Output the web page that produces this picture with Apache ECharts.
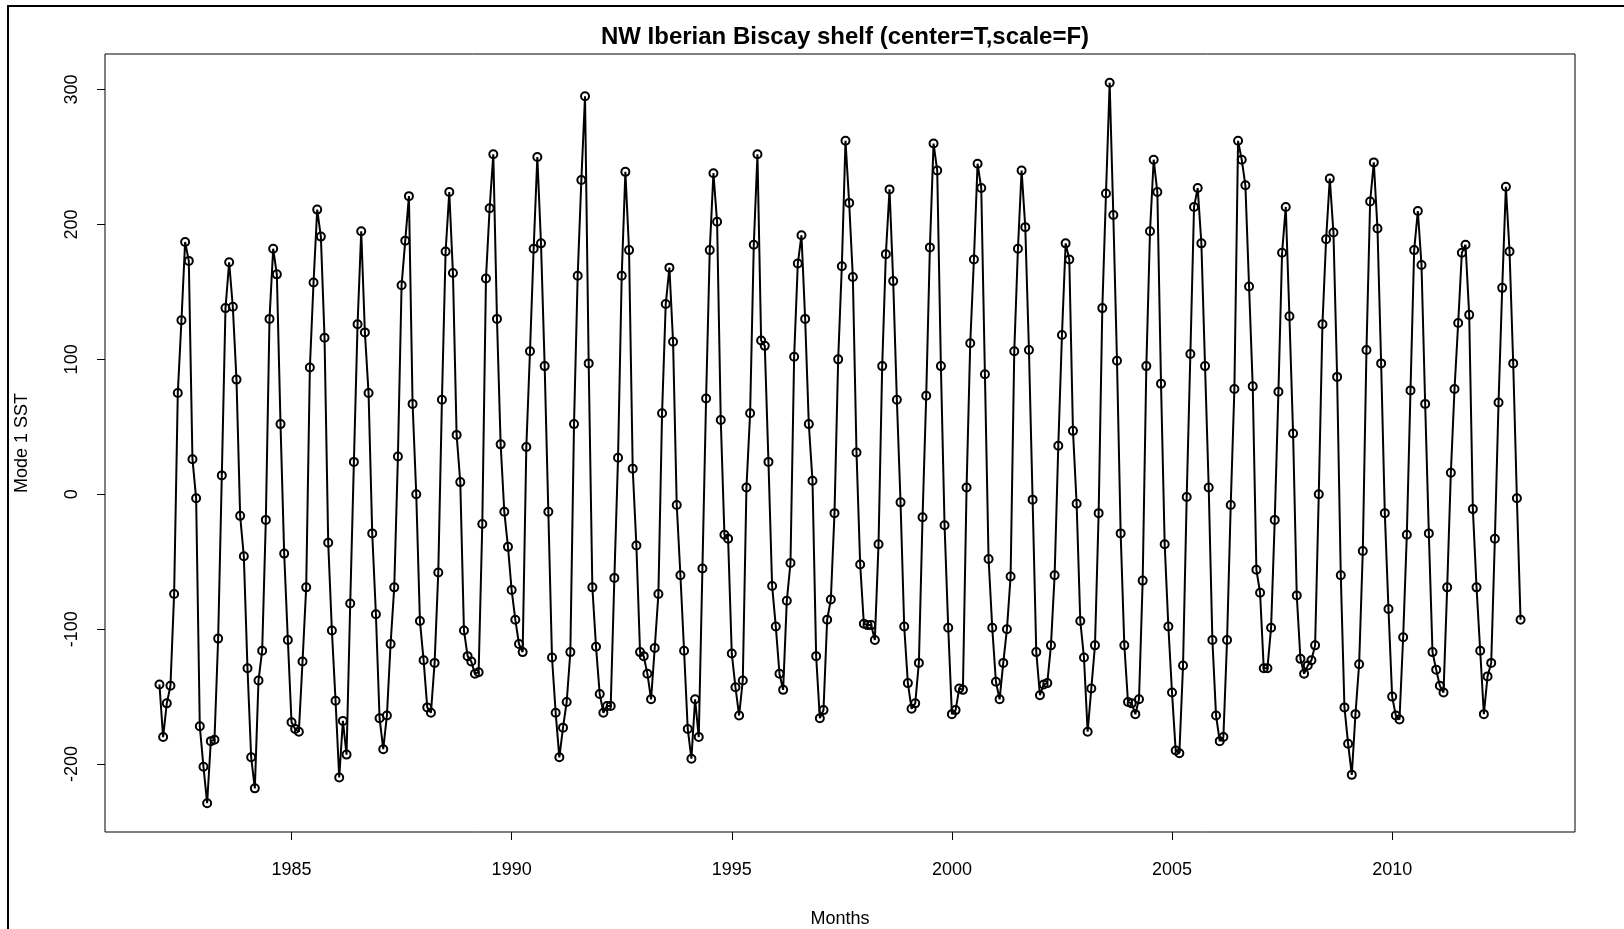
<!DOCTYPE html>
<html>
<head>
<meta charset="utf-8">
<script src="https://cdn.jsdelivr.net/npm/echarts@6/dist/echarts.min.js"></script>
<style>
  html, body { margin: 0; padding: 0; background: #fff; overflow: hidden; }
  #chart { position: absolute; left: 0; top: 0; width: 1624px; height: 929px; }
  #frame { position: absolute; left: 7px; top: 5px; width: 1700px; height: 1000px;
           border-left: 2px solid #000; border-top: 2px solid #000; pointer-events: none; }
</style>
</head>
<body>
<div id="chart"></div>
<div id="frame"></div>
<script>
// Mode 1 SST, monthly values Jan..Dec
var startYear = 1982;
var y1982 = [-141, -180, -155, -142, -74, 75, 129, 187, 173, 26, -3, -172];
var y1983 = [-202, -229, -183, -182, -107, 14, 138, 172, 139, 85, -16, -46];
var y1984 = [-129, -195, -218, -138, -116, -19, 130, 182, 163, 52, -44, -108];
var y1985 = [-169, -174, -176, -124, -69, 94, 157, 211, 191, 116, -36, -101];
var y1986 = [-153, -210, -168, -193, -81, 24, 126, 195, 120, 75, -29, -89];
var y1987 = [-166, -189, -164, -111, -69, 28, 155, 188, 221, 67, 0, -94];
var y1988 = [-123, -158, -162, -125, -58, 70, 180, 224, 164, 44, 9, -101];
var y1989 = [-120, -124, -133, -132, -22, 160, 212, 252, 130, 37, -13, -39];
var y1990 = [-71, -93, -111, -117, 35, 106, 182, 250, 186, 95, -13, -121];
var y1991 = [-162, -195, -173, -154, -117, 52, 162, 233, 295, 97, -69, -113];
var y1992 = [-148, -162, -157, -157, -62, 27, 162, 239, 181, 19, -38, -117];
var y1993 = [-120, -133, -152, -114, -74, 60, 141, 168, 113, -8, -60, -116];
var y1994 = [-174, -196, -152, -180, -55, 71, 181, 238, 202, 55, -30, -33];
var y1995 = [-118, -143, -164, -138, 5, 60, 185, 252, 114, 110, 24, -68];
var y1996 = [-98, -133, -145, -79, -51, 102, 171, 192, 130, 52, 10, -120];
var y1997 = [-166, -160, -93, -78, -14, 100, 169, 262, 216, 161, 31, -52];
var y1998 = [-96, -97, -97, -108, -37, 95, 178, 226, 158, 70, -6, -98];
var y1999 = [-140, -159, -155, -125, -17, 73, 183, 260, 240, 95, -23, -99];
var y2000 = [-163, -160, -144, -145, 5, 112, 174, 245, 227, 89, -48, -99];
var y2001 = [-139, -152, -125, -100, -61, 106, 182, 240, 198, 107, -4, -117];
var y2002 = [-149, -141, -140, -112, -60, 36, 118, 186, 174, 47, -7, -94];
var y2003 = [-121, -176, -144, -112, -14, 138, 223, 305, 207, 99, -29, -112];
var y2004 = [-154, -155, -163, -152, -64, 95, 195, 248, 224, 82, -37, -98];
var y2005 = [-147, -190, -192, -127, -2, 104, 213, 227, 186, 95, 5, -108];
var y2006 = [-164, -183, -180, -108, -8, 78, 262, 248, 229, 154, 80, -56];
var y2007 = [-73, -129, -129, -99, -19, 76, 179, 213, 132, 45, -75, -122];
var y2008 = [-133, -127, -123, -112, 0, 126, 189, 234, 194, 87, -60, -158];
var y2009 = [-185, -208, -163, -126, -42, 107, 217, 246, 197, 97, -14, -85];
var y2010 = [-150, -164, -167, -106, -30, 77, 181, 210, 170, 67, -29, -117];
var y2011 = [-130, -142, -147, -69, 16, 78, 127, 179, 185, 133, -11, -69];
var y2012 = [-116, -163, -135, -125, -33, 68, 153, 228, 180, 97, -3, -93];

var years = [y1982, y1983, y1984, y1985, y1986, y1987, y1988, y1989, y1990, y1991,
             y1992, y1993, y1994, y1995, y1996, y1997, y1998, y1999, y2000, y2001,
             y2002, y2003, y2004, y2005, y2006, y2007, y2008, y2009, y2010, y2011, y2012];

var xTicks = [1985, 1990, 1995, 2000, 2005, 2010];
var yTicks = [-200, -100, 0, 100, 200, 300];

var points = [];
years.forEach(function (vals, k) {
  vals.forEach(function (v, m) {
    points.push([startYear + k + m / 12, v]);
  });
});

// R pads the data range by 4% on each side
var xs = points.map(function (p) { return p[0]; });
var vs = points.map(function (p) { return p[1]; });
var xMin = Math.min.apply(null, xs), xMax = Math.max.apply(null, xs);
var vMin = Math.min.apply(null, vs), vMax = Math.max.apply(null, vs);
var xPad = (xMax - xMin) * 0.04, vPad = (vMax - vMin) * 0.04;

var font = 'Liberation Sans, Arial, sans-serif';
var chart = echarts.init(document.getElementById('chart'));

chart.setOption({
  animation: false,
  backgroundColor: '#fff',
  title: {
    text: 'NW Iberian Biscay shelf (center=T,scale=F)',
    left: 840,
    top: 20,
    textAlign: 'center',
    textStyle: { fontFamily: font, fontSize: 24, fontWeight: 'bold', color: '#000' }
  },
  grid: {
    left: 105, right: 49, top: 54, bottom: 97,
    containLabel: false,
    outerBoundsMode: 'none',
    show: true, borderColor: '#000', borderWidth: 1, backgroundColor: 'transparent'
  },
  xAxis: {
    type: 'value',
    min: xMin - xPad,
    max: xMax + xPad,
    name: 'Months',
    nameLocation: 'middle',
    nameGap: 78,
    nameTextStyle: { fontFamily: font, fontSize: 18, color: '#000' },
    axisLine: { show: false, onZero: false },
    axisTick: { show: true, inside: false, length: 8, customValues: xTicks,
                lineStyle: { color: '#000', width: 1 } },
    axisLabel: { customValues: xTicks, margin: 29, fontFamily: font, fontSize: 18, color: '#000',
                 formatter: function (v) { return String(v); } },
    splitLine: { show: false }
  },
  yAxis: {
    type: 'value',
    min: vMin - vPad,
    max: vMax + vPad,
    name: 'Mode 1 SST',
    nameLocation: 'middle',
    nameRotate: 90,
    nameGap: 74,
    nameTextStyle: { fontFamily: font, fontSize: 18, color: '#000' },
    axisLine: { show: false, onZero: false },
    axisTick: { show: true, inside: false, length: 8, customValues: yTicks,
                lineStyle: { color: '#000', width: 1 } },
    axisLabel: { customValues: yTicks, rotate: 90, margin: 24, fontFamily: font, fontSize: 18, color: '#000' },
    splitLine: { show: false }
  },
  series: [{
    type: 'line',
    data: points,
    symbol: 'circle',
    symbolSize: 8,
    showAllSymbol: true,
    lineStyle: { color: '#000', width: 2 },
    itemStyle: { color: 'rgba(255,255,255,0)', borderColor: '#000', borderWidth: 2 }
  }]
});
</script>
</body>
</html>
